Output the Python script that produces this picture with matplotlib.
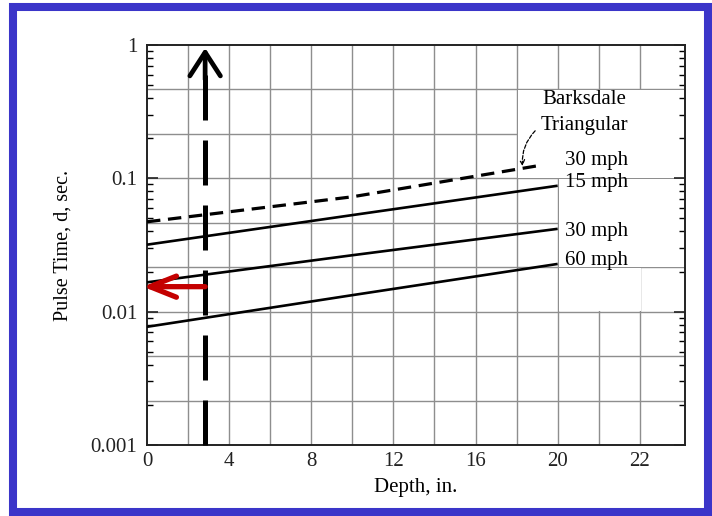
import numpy as np
import matplotlib
matplotlib.use('Agg')
import matplotlib.pyplot as plt
from matplotlib.patches import Rectangle
from matplotlib.ticker import FixedLocator, FixedFormatter, LogLocator, NullFormatter

# ---- data ----
depth_barksdale = [0, 10, 19]
pulse_barksdale_30 = [0.0472, 0.0727, 0.124]
depth = [0, 10, 20]
pulse_15mph = [0.0318, 0.053, 0.088]
pulse_30mph = [0.0166, 0.0265, 0.0418]
pulse_60mph = [0.0077, 0.0133, 0.0228]

x_tick_pos = [0, 4, 8, 12, 16, 20, 24]
x_tick_labels = ['0', '4', '8', '12', '16', '20', '22']
y_tick_pos = [0.001, 0.01, 0.1, 1]
y_tick_labels = ['0.001', '0.01', '0.1', '1']

series_labels = ['30 mph', '15 mph', '30 mph', '60 mph']
series_label_y = [0.135, 0.0925, 0.0397, 0.0241]

# annotation markers (hand-drawn arrows in the reference)
marker_depth = 2.83
red_arrow_pulse = 0.0154

plt.rcParams['font.family'] = ['Liberation Serif', 'DejaVu Serif']

fig = plt.figure(figsize=(7.12, 5.16), dpi=100)
ax = fig.add_axes([0.2065, 0.1376, 0.962 - 0.2065, 0.9128 - 0.1376])
ax.set_yscale('log')
ax.set_xlim(0, 26.2)
ax.set_ylim(0.001, 1)

# grid (vertical every 2 in., horizontal every 1/3 decade)
grid_c = '#8e8e8e'
for gx in np.arange(2, 26, 2):
    ax.axvline(gx, color=grid_c, lw=1.0, zorder=1)
for k in range(1, 9):
    ax.axhline(10 ** (-k / 3), color=grid_c, lw=1.0, zorder=1)

# white label areas without grid
for (x0, x1, y0, y1) in [(18, 26.2, 0.1, 10 ** (-1 / 3)),
                          (20, 26.2, 10 ** (-5 / 3), 0.1),
                          (20, 24, 0.01, 10 ** (-5 / 3))]:
    ax.add_patch(Rectangle((x0 + 0.05, y0 * 1.012), x1 - x0, y1 / 1.012 - y0 * 1.012,
                           facecolor='white', edgecolor='none', zorder=1.5))

# curves
ax.plot(depth_barksdale, pulse_barksdale_30, color='black', lw=2.3,
        linestyle=(0, (4.2, 2.4)), zorder=3)
for vals in (pulse_15mph, pulse_30mph, pulse_60mph):
    ax.plot(depth, vals, color='black', lw=1.9, zorder=3, solid_capstyle='butt')

# labels next to curves
fs = 15
ax.text(21.3, 0.387, 'Barksdale', fontsize=fs, ha='center', va='center', zorder=4)
ax.text(21.3, 0.247, 'Triangular', fontsize=fs, ha='center', va='center', zorder=4)
for lab, yv in zip(series_labels, series_label_y):
    ax.text(20.35, yv, lab, fontsize=fs, ha='left', va='center', zorder=4)
ax.annotate('', xy=(18.3, 0.118), xytext=(19.0, 0.235),
            arrowprops=dict(arrowstyle='->,head_length=0.35,head_width=0.18',
                            lw=0.9, color='black', linestyle=(0, (3, 1.5)),
                            connectionstyle='arc3,rad=0.25'), zorder=4)

# big dashed black arrow
ax.plot([marker_depth, marker_depth], [0.001, 0.67], color='black', lw=3.6,
        linestyle=(0, (9, 4)), solid_capstyle='butt', dash_capstyle='butt', zorder=5,
        clip_on=False)
ax.annotate('', xy=(marker_depth, 0.95), xytext=(marker_depth, 0.55),
            arrowprops=dict(arrowstyle='->,head_length=0.85,head_width=0.55',
                            mutation_scale=20, lw=3.4, color='black',
                            shrinkA=0, shrinkB=0, joinstyle='round', capstyle='round'),
            zorder=5)

# red arrow
ax.annotate('', xy=(-0.2, red_arrow_pulse), xytext=(marker_depth, red_arrow_pulse),
            arrowprops=dict(arrowstyle='->,head_length=0.95,head_width=0.38',
                            mutation_scale=20, lw=3.8, color='#c40000',
                            shrinkA=0, shrinkB=0, joinstyle='round', capstyle='round'),
            zorder=6, annotation_clip=False)

# axes, ticks
for s in ax.spines.values():
    s.set_color('#222222')
    s.set_linewidth(1.4)
ax.xaxis.set_major_locator(FixedLocator(x_tick_pos))
ax.xaxis.set_major_formatter(FixedFormatter(x_tick_labels))
ax.yaxis.set_major_locator(FixedLocator(y_tick_pos))
ax.yaxis.set_major_formatter(FixedFormatter(y_tick_labels))
ax.yaxis.set_minor_locator(LogLocator(base=10, subs=np.arange(2, 10)))
ax.yaxis.set_minor_formatter(NullFormatter())
ax.tick_params(axis='x', length=0, labelsize=fs, pad=5, colors='#222222')
ax.tick_params(axis='y', which='major', direction='in', length=8, width=1.2,
               left=True, right=True, labelsize=fs, pad=7, colors='#222222')
ax.tick_params(axis='y', which='minor', direction='in', length=4, width=1.0,
               left=True, right=True)

ax.set_xlabel('Depth, in.', fontsize=fs, labelpad=5)
ax.set_ylabel('Pulse Time, d, sec.', fontsize=14.5, labelpad=13)

# blue frame around the picture
fig.patches.append(Rectangle((0.018, 0.008), 0.994 - 0.018, 0.987 - 0.008,
                             transform=fig.transFigure, fill=False,
                             edgecolor='#3b35c9', lw=5.8, zorder=10))

fig.savefig('out.png', dpi=100, facecolor='white')
